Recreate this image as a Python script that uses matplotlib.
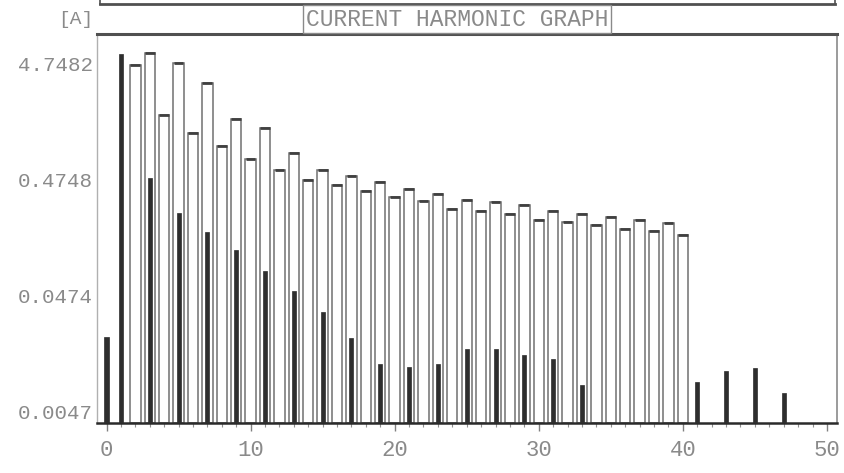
import matplotlib
matplotlib.use("Agg")
import matplotlib.pyplot as plt
from matplotlib.lines import Line2D
import numpy as np

# Harmonic orders and measured current (A)
measured_orders = [0, 1, 3, 5, 7, 9, 11, 13, 15, 17, 19, 21, 23, 25, 27, 29, 31, 33,
                   41, 43, 45, 47]
measured_current = [0.0208, 5.79, 0.49, 0.243, 0.167, 0.117, 0.077, 0.052, 0.034,
                    0.0204, 0.0122, 0.0116, 0.0122, 0.0163, 0.0163, 0.0145, 0.0136,
                    0.0080, 0.0086, 0.0107, 0.0113, 0.0069]

# Limit values per harmonic order 2..40 (A)
limit_orders = list(range(2, 41))
limit_current = [4.61, 5.9, 1.73, 4.78, 1.21, 3.22, 0.917, 1.59, 0.718, 1.33,
                 0.578, 0.809, 0.474, 0.570, 0.429, 0.509, 0.378, 0.452, 0.336,
                 0.397, 0.308, 0.359, 0.267, 0.319, 0.253, 0.304, 0.241, 0.285,
                 0.214, 0.253, 0.205, 0.241, 0.191, 0.226, 0.179, 0.211, 0.170,
                 0.200, 0.157]

# Axis tick labels
y_tick_values = [0.0047482, 0.047482, 0.47482, 4.7482]
y_tick_labels = ["0.0047", "0.0474", "0.4748", "4.7482"]
x_tick_values = [0, 10, 20, 30, 40, 50]
x_tick_labels = ["0", "10", "20", "30", "40", "50"]

TITLE = "CURRENT HARMONIC GRAPH"
UNIT = "[A]"

Y_MIN, Y_MAX = 0.00378, 8.56
X_MIN, X_MAX = -0.66, 50.7

FONT = "Liberation Mono"
TEXT_COLOR = "#8a8a8a"

fig = plt.figure(figsize=(8.45, 4.73), dpi=100)
ax = fig.add_axes([97 / 845, 1 - 423 / 473, (837 - 97) / 845, (423 - 34) / 473])
ax.set_yscale("log")
ax.set_xlim(X_MIN, X_MAX)
ax.set_ylim(Y_MIN, Y_MAX)

# limit bars (outlined) with darker caps
ax.bar(limit_orders, np.array(limit_current) - Y_MIN, bottom=Y_MIN, width=0.72,
       facecolor="white", edgecolor="#707070", linewidth=1.1, zorder=2)
ax.hlines(limit_current, np.array(limit_orders) - 0.34, np.array(limit_orders) + 0.34,
          colors="#404040", linewidth=2.0, zorder=3)

# measured bars (solid)
ax.bar(measured_orders, np.array(measured_current) - Y_MIN, bottom=Y_MIN, width=0.28,
       facecolor="#2e2e2e", edgecolor="#2e2e2e", linewidth=0.5, zorder=4)

# ticks
ax.set_yticks(y_tick_values)
ax.set_yticklabels(y_tick_labels, family=FONT, fontsize=15, color=TEXT_COLOR)
ax.yaxis.set_minor_locator(matplotlib.ticker.NullLocator())
ax.tick_params(axis="y", length=0, pad=3)

ax.set_xticks(x_tick_values)
ax.set_xticklabels(x_tick_labels, family=FONT, fontsize=16, color=TEXT_COLOR)
ax.set_xticks(np.arange(0, 51, 1), minor=True)
ax.tick_params(axis="x", which="major", direction="out", length=6, width=1,
               color="#808080", pad=6)
ax.tick_params(axis="x", which="minor", direction="out", length=3, width=0.8,
               color="#909090")

# frame
ax.spines["left"].set_color("#b0b0b0")
ax.spines["left"].set_linewidth(1.0)
ax.spines["right"].set_color("#8a8a8a")
ax.spines["right"].set_linewidth(1.2)
ax.spines["top"].set_color("#505050")
ax.spines["top"].set_linewidth(2.2)
ax.spines["bottom"].set_color("#2a2a2a")
ax.spines["bottom"].set_linewidth(1.8)

# title box and unit
fig.text(457 / 845, 1 - 19 / 473, TITLE, family=FONT, fontsize=16.5, color=TEXT_COLOR,
         ha="center", va="center",
         bbox=dict(boxstyle="square,pad=0.1", facecolor="white",
                   edgecolor="#8a8a8a", linewidth=1.0))
fig.text(76 / 845, 1 - 19 / 473, UNIT, family=FONT, fontsize=14, color=TEXT_COLOR,
         ha="center", va="center")

# edge of the panel above
fig.add_artist(Line2D([100 / 845, 835 / 845], [1 - 4 / 473, 1 - 4 / 473],
                      color="#505050", linewidth=2.0, transform=fig.transFigure))
fig.add_artist(Line2D([100 / 845, 100 / 845], [1 - 4 / 473, 1.0],
                      color="#505050", linewidth=1.2, transform=fig.transFigure))
fig.add_artist(Line2D([835 / 845, 835 / 845], [1 - 4 / 473, 1.0],
                      color="#505050", linewidth=1.2, transform=fig.transFigure))

fig.savefig("out.png", dpi=100)
